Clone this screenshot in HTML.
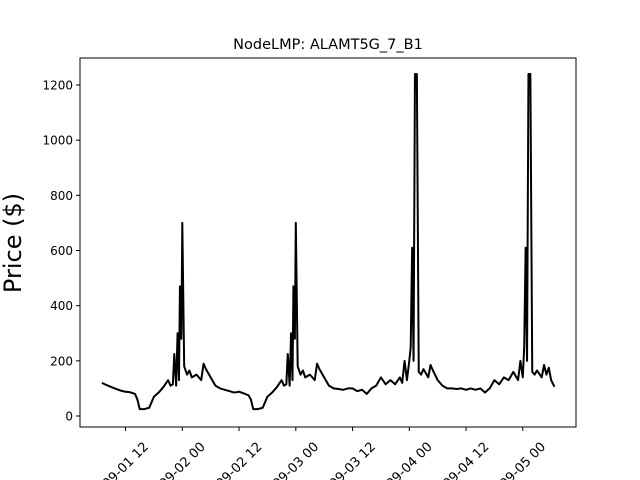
<!DOCTYPE html>
<html><head><meta charset="utf-8"><style>
body{margin:0;background:#fff;overflow:hidden;}
svg{display:block;}
svg text{font-family:"DejaVu Sans","Liberation Sans",sans-serif;fill:#000;}
</style></head><body>
<svg width="640" height="480" xmlns="http://www.w3.org/2000/svg">
<rect width="640" height="480" fill="#fff"/>
<text x="328" y="49" font-size="14.5" text-anchor="middle">NodeLMP: ALAMT5G_7_B1</text>
<text transform="translate(21,243) rotate(-90)" font-size="24" text-anchor="middle">Price ($)</text>
<g id="yt"></g><g id="xt"></g>
<path id="line" fill="none" stroke="#000" stroke-width="2" stroke-linejoin="round"/>
<rect x="80" y="58" width="496" height="369" fill="none" stroke="#000" stroke-width="1"/>
</svg>
<script>
const hours=[7,8,9,10,11,12,13,14,14.5,15,16,17,18,19,20,21,21.5,22,22.3,22.7,23,23.3,23.5,23.8,24,24.4,25,25.5,26,27,28,28.5,29,30,31,32,33,34,35,36,37,38,38.5,39,40,41,42,43,44,45,45.5,46,46.3,46.7,47,47.3,47.5,47.8,48,48.4,49,49.5,50,51,52,52.5,53,54,55,56,57,58,59,60,61,62,63,64,65,66,67,68,69,70,70.5,71,71.5,72,72.3,72.6,72.9,73.2,73.6,74,74.5,75,76,76.5,77,78,79,80,81,82,83,84,85,86,87,88,89,90,91,92,93,94,95,95.5,96,96.3,96.6,96.9,97.2,97.6,98,98.5,99,100,100.5,101,101.5,102,102.7];
const prices=[120,112,105,98,92,88,86,80,60,25,25,30,70,85,105,130,110,115,225,110,300,130,470,280,700,180,150,165,140,150,130,190,170,140,110,100,95,90,85,88,82,75,60,25,25,30,70,85,105,130,110,115,225,110,300,130,470,280,700,180,150,165,140,150,130,190,170,140,110,100,98,95,100,100,90,95,80,100,110,140,115,130,115,140,120,200,130,200,250,610,200,1240,1240,160,150,170,140,185,165,130,110,100,100,98,100,95,100,95,100,85,100,130,115,140,130,160,130,200,140,250,610,200,1240,1240,160,150,165,140,185,150,175,130,106];
const yTicks=[0,200,400,600,800,1000,1200];
const xTickHours=[12,24,36,48,60,72,84,96];
const xTickLabels=["09-01 12","09-02 00","09-02 12","09-03 00","09-03 12","09-04 00","09-04 12","09-05 00"];
const X=h=>182.3+(h-24)*4.729;
const Y=v=>416-v*0.27583;
const NS="http://www.w3.org/2000/svg";
let d="";
hours.forEach((h,i)=>{d+=(i?"L":"M")+X(h).toFixed(2)+","+Y(prices[i]).toFixed(2);});
document.getElementById("line").setAttribute("d",d);
const yt=document.getElementById("yt");
yTicks.forEach(v=>{
 const l=document.createElementNS(NS,"line");
 l.setAttribute("x1",76);l.setAttribute("x2",80);l.setAttribute("y1",Y(v));l.setAttribute("y2",Y(v));l.setAttribute("stroke","#000");
 
 
 yt.appendChild(l);
 const t=document.createElementNS(NS,"text");
 t.setAttribute("x",73);t.setAttribute("y",Y(v)+4.5);t.setAttribute("font-size","12");t.setAttribute("text-anchor","end");
 t.textContent=v;
 
 
 yt.appendChild(t);
});
const xt=document.getElementById("xt");
xTickHours.forEach((h,i)=>{
 const x=X(h);
 const l=document.createElementNS(NS,"line");
 l.setAttribute("x1",x);l.setAttribute("x2",x);l.setAttribute("y1",427);l.setAttribute("y2",431);l.setAttribute("stroke","#000");
 
 
 xt.appendChild(l);
 const t=document.createElementNS(NS,"text");
 t.setAttribute("transform","translate("+(x-13)+",479) rotate(-45)");
 t.setAttribute("font-size","13");t.setAttribute("text-anchor","middle");t.setAttribute("dominant-baseline","middle");
 t.textContent="2020-"+xTickLabels[i];
 
 
 xt.appendChild(t);
});
</script>
</body></html>
